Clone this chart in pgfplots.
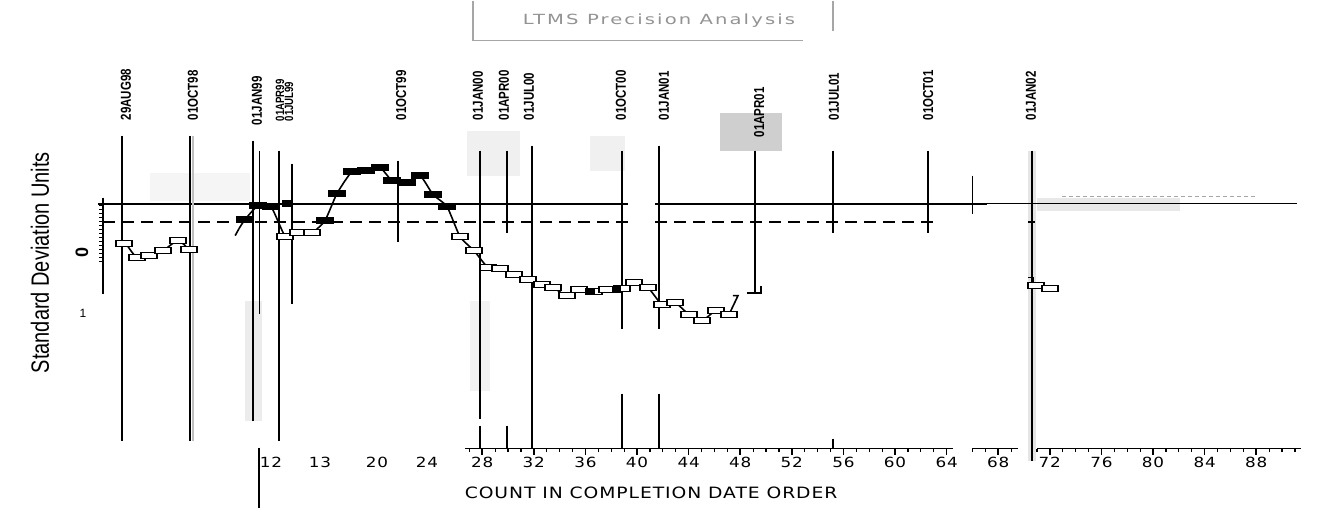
\documentclass[border=0pt]{standalone}
\usepackage{pgfplots}
\pgfplotsset{compat=1.18}
\usepackage{fontspec}
\setmainfont{Liberation Sans}
\newfontfamily\widefont[FakeStretch=1.2,LetterSpace=6]{DejaVu Sans}
\newfontfamily\titlefont[FakeStretch=1.4,LetterSpace=15]{DejaVu Sans}
\newfontfamily\lblfont[FakeStretch=0.8]{Liberation Sans}
\pgfdeclareplotmark{rbox}{\pgfpathrectangle{\pgfqpoint{-4pt}{-1.6pt}}{\pgfqpoint{8pt}{3.2pt}}\pgfusepathqfillstroke}
\pgfdeclareplotmark{sbox}{\pgfpathrectangle{\pgfqpoint{-2pt}{-1.5pt}}{\pgfqpoint{4pt}{3pt}}\pgfusepathqfillstroke}
\tikzset{
  vl/.style={black, line width=1pt},
  dl/.style={rotate=90, anchor=west, inner sep=0pt, font=\lblfont\bfseries\fontsize{7.2}{7.2}\selectfont},
  tl/.style={inner sep=0pt, font=\widefont\fontsize{7}{7}\selectfont},
}
\begin{document}
\begin{tikzpicture}
\begin{axis}[
  scale only axis, width=663.5pt, height=253.5pt,
  xmin=-9.380, xmax=93.488, ymin=-4.2333, ymax=4.2167,
  hide axis, clip=false,
]
% light grey scan patches
\addplot[draw=none, fill=gray!38] coordinates {(46.43,2.35)(51.24,2.35)(51.24,1.717)(46.43,1.717)} -- cycle;
\addplot[draw=none, fill=gray!12] coordinates {(26.82,2.05)(30.93,2.05)(30.93,1.3)(26.82,1.3)} -- cycle;
\addplot[draw=none, fill=gray!12] coordinates {(36.36,1.967)(39.07,1.967)(39.07,1.383)(36.36,1.383)} -- cycle;
\addplot[draw=none, fill=gray!8] coordinates {(2.25,1.35)(10.0,1.35)(10.0,0.883)(2.25,0.883)} -- cycle;
\addplot[draw=none, fill=gray!15] coordinates {(9.61,-0.783)(10.93,-0.783)(10.93,-2.783)(9.61,-2.783)} -- cycle;
\addplot[draw=none, fill=gray!10] coordinates {(27.05,-0.783)(28.6,-0.783)(28.6,-2.283)(27.05,-2.283)} -- cycle;
\addplot[draw=none, fill=gray!20] coordinates {(70.31,1.717)(70.93,1.717)(70.93,-3.45)(70.31,-3.45)} -- cycle;
\addplot[draw=none, fill=gray!18] coordinates {(71.0,0.933)(82.1,0.933)(82.1,0.717)(71.0,0.717)} -- cycle;

% horizontal reference lines
\addplot[black, line width=1pt] coordinates {(-1.40,0.833)(39.30,0.833)};
\addplot[black, line width=1pt] coordinates {(41.40,0.833)(67.13,0.833)};
\addplot[black, line width=0.7pt] coordinates {(67.13,0.833)(91.16,0.833)};
\addplot[black, line width=1pt, dash pattern=on 6pt off 3.5pt] coordinates {(-1.40,0.533)(39.30,0.533)};
\addplot[black, line width=1pt, dash pattern=on 6pt off 3.5pt] coordinates {(41.40,0.533)(63.49,0.533)};
\addplot[black, line width=1pt] coordinates {(70.31,0.533)(70.85,0.533)};
\addplot[gray!70, line width=0.8pt, dash pattern=on 2pt off 1.5pt] coordinates {(72.95,0.95)(87.9,0.95)};

% left ruler axis
\addplot[black, line width=1pt] coordinates {(-1.40,0.933)(-1.40,-0.667)};
\addplot[black, only marks, mark=-, mark size=1pt] coordinates {
 (-1.55,0.8)(-1.55,0.733)(-1.55,0.667)(-1.55,0.6)(-1.55,0.533)(-1.55,0.467)(-1.55,0.4)(-1.55,0.333)
 (-1.55,0.267)(-1.55,0.2)(-1.55,0.133)(-1.55,0.067)(-1.55,0)(-1.55,-0.067)(-1.55,-0.133)};
\addplot[black, line width=1pt] coordinates {(-1.80,0.833)(-0.90,0.833)};

% vertical date lines
\addplot[vl] coordinates {(0.08,1.967)(0.08,-3.117)};
\addplot[vl, line width=1.4pt] coordinates {(5.35,1.967)(5.35,-3.117)};
\addplot[gray!50, line width=0.8pt] coordinates {(5.6,1.967)(5.6,-3.117)};
\addplot[vl, line width=1.3pt] coordinates {(10.23,1.883)(10.23,-2.783)};
\addplot[vl, line width=0.5pt] coordinates {(10.70,1.717)(10.70,-1.0)};
\addplot[vl] coordinates {(12.25,1.717)(12.25,-3.117)};
\addplot[vl, line width=0.6pt] coordinates {(13.26,1.5)(13.26,-0.833)};
\addplot[vl] coordinates {(21.47,1.55)(21.47,0.2)};
\addplot[vl] coordinates {(27.83,1.717)(27.83,-2.75)};
\addplot[vl] coordinates {(27.83,-2.867)(27.83,-3.25)};
\addplot[vl] coordinates {(29.92,1.717)(29.92,0.35)};
\addplot[vl] coordinates {(29.92,-2.867)(29.92,-3.25)};
\addplot[vl] coordinates {(31.86,1.8)(31.86,-3.25)};
\addplot[vl] coordinates {(38.84,1.717)(38.84,-1.25)};
\addplot[vl] coordinates {(38.84,-2.333)(38.84,-3.25)};
\addplot[vl] coordinates {(41.71,1.8)(41.71,-1.25)};
\addplot[vl] coordinates {(41.71,-2.333)(41.71,-3.25)};
\addplot[vl] coordinates {(49.15,1.717)(49.15,-0.65)};
\addplot[vl] coordinates {(55.19,1.717)(55.19,0.35)};
\addplot[vl] coordinates {(55.19,-3.083)(55.19,-3.25)};
\addplot[vl] coordinates {(62.56,1.717)(62.56,0.35)};
\addplot[vl, line width=0.5pt] coordinates {(65.97,1.3)(65.97,0.667)};
\addplot[vl] coordinates {(70.62,1.717)(70.62,-3.45)};
\addplot[vl, line width=0.6pt] coordinates {(10.70,-3.233)(10.70,-4.233)};

% bottom count axis
\addplot[black, line width=0.8pt] coordinates {(26.67,-3.25)(64.5,-3.25)};
\addplot[black, line width=0.8pt] coordinates {(65.97,-3.25)(69.53,-3.25)};
\addplot[black, line width=0.8pt] coordinates {(71.0,-3.25)(91.47,-3.25)};
\addplot[black, only marks, mark=|, mark size=1.5pt, mark options={line width=0.8pt}] coordinates {
 (28,-3.30)(32,-3.30)(36,-3.30)(40,-3.30)(44,-3.30)(48,-3.30)(52,-3.30)(56,-3.30)(60,-3.30)(64,-3.30)
 (68,-3.30)(72,-3.30)(76,-3.30)(80,-3.30)(84,-3.30)(88,-3.30)};
\addplot[black, only marks, mark=|, mark size=0.75pt, mark options={line width=0.6pt}] coordinates {
 (27,-3.275)(29,-3.275)(30,-3.275)(31,-3.275)(33,-3.275)(34,-3.275)(35,-3.275)(37,-3.275)(38,-3.275)(39,-3.275)
 (41,-3.275)(42,-3.275)(43,-3.275)(45,-3.275)(46,-3.275)(47,-3.275)(49,-3.275)(50,-3.275)(51,-3.275)
 (53,-3.275)(54,-3.275)(55,-3.275)(57,-3.275)(58,-3.275)(59,-3.275)(61,-3.275)(62,-3.275)(63,-3.275)
 (66,-3.275)(67,-3.275)(69,-3.275)(71,-3.275)(73,-3.275)(74,-3.275)(75,-3.275)(77,-3.275)(78,-3.275)(79,-3.275)
 (81,-3.275)(82,-3.275)(83,-3.275)(85,-3.275)(86,-3.275)(87,-3.275)(89,-3.275)(90,-3.275)(91,-3.275)};

% connecting curves
\addplot[black, line width=0.8pt, smooth, tension=0.4] coordinates {
 (0.5,0.13)(1.24,-0.067)(2.17,-0.033)(3.26,0.05)(4.42,0.217)(5.27,0.067)};
\addplot[black, line width=0.8pt, smooth, tension=0.35] coordinates {
 (9.15,0.417)(9.61,0.567)(10.62,0.8)(11.63,0.783)(12.71,0.3)(13.72,0.35)(14.81,0.35)(15.81,0.55)
 (16.74,1.0)(17.91,1.367)(18.99,1.383)(20.08,1.433)(21.01,1.217)(22.17,1.183)(23.18,1.3)(24.19,0.983)
 (25.27,0.783)(26.28,0.283)(27.36,0.05)(28.45,-0.233)(29.38,-0.25)(30.47,-0.35)(31.55,-0.433)
 (32.64,-0.517)(33.49,-0.567)(34.57,-0.7)(35.50,-0.6)(36.67,-0.633)(37.67,-0.6)(38.84,-0.583)
 (39.77,-0.483)(40.85,-0.567)(41.94,-0.85)(42.95,-0.817)(44.03,-1.017)(45.04,-1.117)(46.12,-0.95)(47.13,-1.017)};
\addplot[black, line width=0.8pt] coordinates {(8.85,0.3)(9.15,0.417)};
\addplot[black, line width=0.8pt] coordinates {(47.13,-1.017)(47.83,-0.7)(47.44,-0.7)};
\addplot[black, line width=1pt] coordinates {(48.53,-0.65)(49.61,-0.65)(49.61,-0.533)};
\addplot[black, line width=0.6pt] coordinates {(70.31,-0.4)(70.70,-0.4)(70.70,-0.5)};

% open boxes
\addplot[only marks, mark=rbox, mark options={fill=white, draw=black, line width=0.6pt}] coordinates {
 (0.23,0.167)(1.24,-0.067)(2.17,-0.033)(3.26,0.05)(4.42,0.217)(5.27,0.067)
 (12.71,0.283)(13.72,0.35)(14.81,0.35)
 (26.28,0.283)(27.36,0.05)(28.45,-0.233)(29.38,-0.25)(30.47,-0.35)(31.55,-0.433)(32.64,-0.517)
 (33.49,-0.567)(34.57,-0.7)(35.50,-0.6)(36.67,-0.633)(37.67,-0.6)(38.84,-0.583)(39.77,-0.483)
 (40.85,-0.567)(41.94,-0.85)(42.95,-0.817)(44.03,-1.017)(45.04,-1.117)(46.12,-0.95)(47.13,-1.017)
 (70.93,-0.533)(72.02,-0.583)};
% filled boxes
\addplot[only marks, mark=rbox, mark options={fill=black, draw=black, line width=0.6pt}] coordinates {
 (9.61,0.567)(10.62,0.8)(11.63,0.783)(15.81,0.55)(16.74,1.0)(17.91,1.367)(18.99,1.383)(20.08,1.433)
 (21.01,1.217)(22.17,1.183)(23.18,1.3)(24.19,0.983)(25.27,0.783)};
\addplot[only marks, mark=sbox, mark options={fill=black, draw=black}] coordinates {(12.79,0.833)(36.36,-0.633)(38.37,-0.6)};

% date labels
\node[dl] at (axis cs:0.39,2.217) {29AUG98};
\node[dl] at (axis cs:5.58,2.217) {01OCT98};
\node[dl] at (axis cs:10.54,2.133) {01JAN99};
\node[dl, font=\lblfont\bfseries\fontsize{6}{6}\selectfont] at (axis cs:12.33,2.2) {01APR99};
\node[dl, font=\lblfont\bfseries\fontsize{6}{6}\selectfont] at (axis cs:13.02,2.2) {01JUL99};
\node[dl] at (axis cs:21.71,2.217) {01OCT99};
\node[dl] at (axis cs:27.67,2.217) {01JAN00};
\node[dl] at (axis cs:29.69,2.217) {01APR00};
\node[dl] at (axis cs:31.63,2.217) {01JUL00};
\node[dl] at (axis cs:38.76,2.217) {01OCT00};
\node[dl] at (axis cs:42.09,2.217) {01JAN01};
\node[dl] at (axis cs:49.46,1.933) {01APR01};
\node[dl] at (axis cs:55.27,2.217) {01JUL01};
\node[dl] at (axis cs:62.56,2.217) {01OCT01};
\node[dl] at (axis cs:70.54,2.217) {01JAN02};

% y labels
\node[rotate=90, inner sep=0pt, font=\fontsize{9}{9}\selectfont\bfseries] at (axis cs:-3.02,0.017) {0};
\node[inner sep=0pt, font=\fontsize{6}{6}\selectfont] at (axis cs:-2.95,-1.0) {1};
\node[rotate=90, inner sep=0pt, font=\lblfont\fontsize{12.5}{12.5}\selectfont] at (axis cs:-6.28,-0.15) {Standard Deviation Units};

% x tick labels
\node[tl] at (axis cs:11.63,-3.483) {12};
\node[tl] at (axis cs:15.43,-3.483) {13};
\node[tl] at (axis cs:19.84,-3.483) {20};
\node[tl] at (axis cs:23.72,-3.483) {24};
\node[tl] at (axis cs:28,-3.483) {28};
\node[tl] at (axis cs:32,-3.483) {32};
\node[tl] at (axis cs:36,-3.483) {36};
\node[tl] at (axis cs:40,-3.483) {40};
\node[tl] at (axis cs:44,-3.483) {44};
\node[tl] at (axis cs:48,-3.483) {48};
\node[tl] at (axis cs:52,-3.483) {52};
\node[tl] at (axis cs:56,-3.483) {56};
\node[tl] at (axis cs:60,-3.483) {60};
\node[tl] at (axis cs:64,-3.483) {64};
\node[tl] at (axis cs:68,-3.483) {68};
\node[tl] at (axis cs:72,-3.483) {72};
\node[tl] at (axis cs:76,-3.483) {76};
\node[tl] at (axis cs:80,-3.483) {80};
\node[tl] at (axis cs:84,-3.483) {84};
\node[tl] at (axis cs:88,-3.483) {88};
\node[inner sep=0pt, font=\widefont\fontsize{7.8}{7.8}\selectfont] at (axis cs:41.09,-3.983) {COUNT IN COMPLETION DATE ORDER};

% title box
\addplot[gray!70, line width=0.6pt] coordinates {(27.29,4.2167)(27.29,3.55)(52.87,3.55)};
\addplot[gray!70, line width=0.6pt] coordinates {(55.19,4.2167)(55.19,3.717)};
\node[inner sep=0pt, text=gray!85, font=\titlefont\fontsize{7}{7}\selectfont] at (axis cs:41.7,3.883) {LTMS Precision Analysis};

\path (rel axis cs:0,0) rectangle (rel axis cs:1,1);
\end{axis}
\end{tikzpicture}
\end{document}
